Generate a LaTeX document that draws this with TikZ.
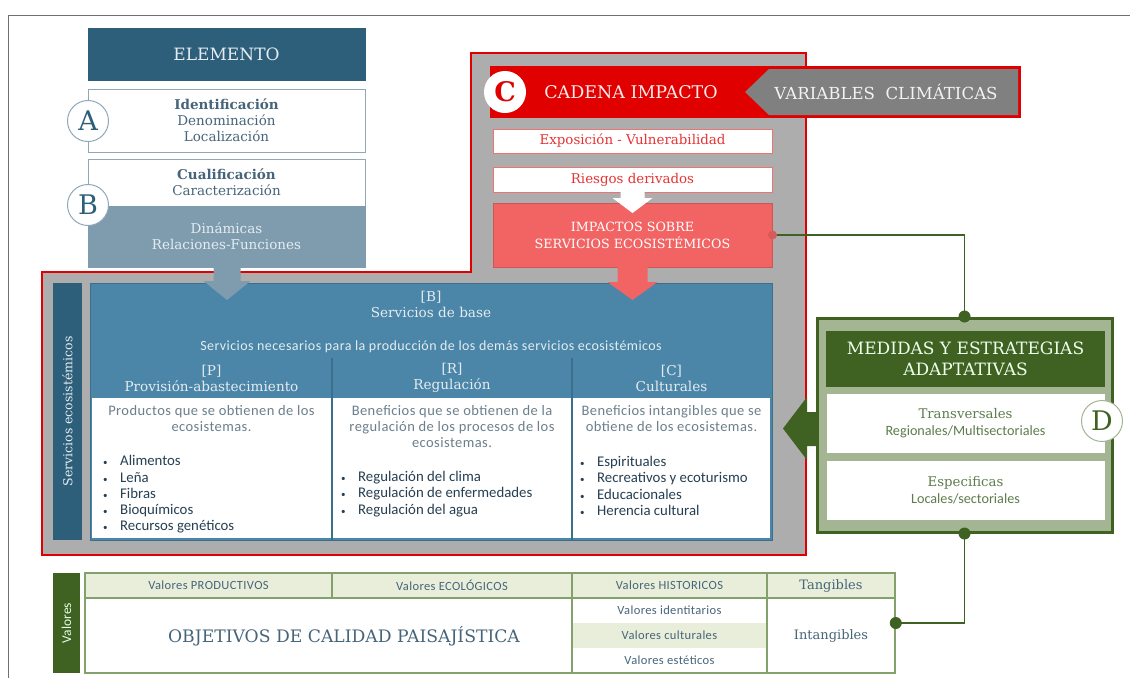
\documentclass[tikz,border=0pt]{standalone}
\usepackage{fontspec}
\setmainfont{DejaVu Serif}
\newfontfamily\sansf{Carlito}
\newfontfamily\sansw{Carlito}[LetterSpace=3]
\usetikzlibrary{calc}

\definecolor{tealdark}{HTML}{2D5F7B}
\definecolor{tealline}{HTML}{8EA8B9}
\definecolor{tealtext}{HTML}{46657A}
\definecolor{bluegray}{HTML}{7F9CAF}
\definecolor{steel}{HTML}{4B86A8}
\definecolor{steelline}{HTML}{3B6F8E}
\definecolor{regiongray}{HTML}{ADADAD}
\definecolor{impred}{HTML}{E00000}
\definecolor{salmon}{HTML}{F26464}
\definecolor{vargray}{HTML}{808080}
\definecolor{leafgreen}{HTML}{3F6121}
\definecolor{sage}{HTML}{A3B593}
\definecolor{palegreen}{HTML}{E8EEDA}
\definecolor{tablegreen}{HTML}{84A06C}
\definecolor{listtext}{HTML}{263F52}
\definecolor{desctext}{HTML}{6B7F8C}
\definecolor{greentext}{HTML}{5E7C4C}
\definecolor{paletext}{HTML}{E4ECF1}
\definecolor{framegray}{HTML}{707070}

\newcommand\fs[2]{\fontsize{#1}{#2}\selectfont}
\newcommand\itm[1]{\makebox[17pt][l]{\fs{9}{9}•}#1}

\tikzset{
  cell/.style={rectangle, inner sep=0pt, align=center},
  headbox/.style={cell, fill=tealdark, draw=tealdark, text=paletext, font=\fs{17}{20}},
  infobox/.style={cell, fill=white, draw=tealline, line width=1pt, text=tealtext, font=\fs{13.5}{16}},
  letter/.style={circle, inner sep=0pt, minimum size=41pt, fill=white, draw=tealline,
    line width=1pt, text=tealdark, font=\fs{27}{27}},
  chainbox/.style={cell, fill=white, draw=impred!55, line width=1pt, text=impred!80, font=\fs{13.4}{15}},
  colhead/.style={cell, text=paletext, font=\fs{13.6}{16}},
  coldesc/.style={cell, text=desctext, font=\sansw\fs{14.5}{16}},
  collist/.style={cell, align=left, anchor=west, text=listtext, font=\sansf\fs{14.8}{16.3}},
  panel/.style={cell, fill=white, minimum height=140},
  measbox/.style={cell, fill=white, draw=sage, line width=1pt, minimum width=279, minimum height=60,
    text=greentext, font=\fs{13.3}{17}},
  tabhead/.style={cell, fill=palegreen, draw=tablegreen, line width=1.5pt, minimum height=25,
    text=tealtext, font=\sansw\fs{12.5}{13}},
  tabrow/.style={cell, fill=white, minimum width=195, minimum height=25, text=tealtext, font=\sansw\fs{12.5}{13}},
  tie/.style={leafgreen, line width=1.5pt}
}

\begin{document}
\begin{tikzpicture}[x=1pt, y=-1pt]
  \useasboundingbox (0,0) rectangle (1130,678);

  % frame
  \draw[framegray, line width=1pt] (8,678) -- (8,15) -- (1130,15);

  % element column
  \node[headbox, minimum width=277, minimum height=52] (elemento) at (226.5,54) {ELEMENTO};
  \node[infobox, minimum width=277, minimum height=63] (ident) at (226.5,120.5)
    {{\bfseries Identificación}\\Denominación\\Localización};
  \node[infobox, minimum width=277, minimum height=47] (cualif) at (226.5,182.5)
    {{\bfseries Cualificación}\\Caracterización};
  \node[cell, fill=bluegray, draw=bluegray, minimum width=277, minimum height=61, text=paletext,
    font=\fs{13.5}{16}] (dinamicas) at (226.5,236.5) {Dinámicas\\Relaciones-Funciones};
  \node[letter] (circA) at (88,121) {A};
  \node[letter] (circB) at (88,205) {B};

  % impact region
  \draw[impred, line width=2.5pt, fill=regiongray]
    (42,272) -- (471,272) -- (471,53) -- (806,53) -- (806,555) -- (42,555) -- cycle;

  % impact chain
  \fill[impred] (490,66) rectangle (1021,118);
  \fill[vargray] (745,92) -- (769,69) -- (1018,69) -- (1018,115) -- (769,115) -- cycle;
  \node[font=\fs{17.5}{20}, text=white!92!red] (cadena) at (631,92) {CADENA IMPACTO};
  \node[font=\fs{16.6}{20}, text=white!90!gray] (variables) at (886,92) {VARIABLES\ \ CLIMÁTICAS};
  \node[letter, draw=white, text=impred, font=\bfseries\fs{27}{27}] (circC) at (505,92) {C};
  \node[chainbox, minimum width=279, minimum height=24] (expos) at (632.5,141) {Exposición - Vulnerabilidad};
  \node[chainbox, minimum width=279, minimum height=25] (riesgos) at (632.5,179.5) {Riesgos derivados};
  \node[cell, fill=salmon, draw=salmon!85!black, line width=1pt, minimum width=279, minimum height=64,
    text=white, font=\fs{12.7}{17}] (impactos) at (632.5,235) {IMPACTOS SOBRE\\SERVICIOS ECOSISTÉMICOS};
  \fill[white] (620.5,192) -- (644.5,192) -- (644.5,198) -- (652.5,198) -- (632.5,213)
    -- (612.5,198) -- (620.5,198) -- cycle;

  % ecosystem services
  \node[cell, fill=steel, draw=steelline, line width=1pt, minimum width=682, minimum height=257] (base) at (431,411.5) {};
  \node[cell, fill=tealdark, minimum width=257, minimum height=29, rotate=90, text=paletext,
    font=\fs{12.5}{14}] (ecolabel) at (67.5,411.5) {Servicios ecosistémicos};
  \node[panel, minimum width=239] (colP) at (211.5,468) {};
  \node[panel, minimum width=238] (colR) at (452,468) {};
  \node[panel, minimum width=197] (colC) at (671.5,468) {};
  \draw[steelline, line width=1.2pt] (332,358) -- (332,540);
  \draw[steelline, line width=1.2pt] (572,358) -- (572,540);

  \node[colhead] (bhead) at (431,304) {[B]\\Servicios de base};
  \node[cell, text=paletext, font=\sansw\fs{14}{15}] (bdesc) at (431,347)
    {Servicios necesarios para la producción de los demás servicios ecosistémicos};
  \node[colhead] (phead) at (211.5,378) {[P]\\Provisión-abastecimiento};
  \node[colhead] (rhead) at (452,378) {[R]\\Regulación};
  \node[colhead] (chead) at (671.5,378) {[C]\\Culturales};

  \node[coldesc] (pdesc) at (211.5,419) {Productos que se obtienen de los\\ecosistemas.};
  \node[coldesc] (rdesc) at (452,427) {Beneficios que se obtienen de la\\regulación de los procesos de los\\ecosistemas.};
  \node[coldesc] (cdesc) at (671.5,419) {Beneficios intangibles que se\\obtiene de los ecosistemas.};

  \node[collist] (plist) at (103,494.5)
    {\itm{Alimentos}\\\itm{Leña}\\\itm{Fibras}\\\itm{Bioquímicos}\\\itm{Recursos genéticos}};
  \node[collist] (rlist) at (341,494)
    {\itm{Regulación del clima}\\\itm{Regulación de enfermedades}\\\itm{Regulación del agua}};
  \node[collist] (clist) at (580,486)
    {\itm{Espirituales}\\\itm{Recreativos y ecoturismo}\\\itm{Educacionales}\\\itm{Herencia cultural}};

  % block arrows
  \fill[bluegray] (213.5,267) -- (240.5,267) -- (240.5,281) -- (250.5,281) -- (227,300)
    -- (203.5,281) -- (213.5,281) -- cycle;
  \fill[salmon] (617.5,267) -- (647.5,267) -- (647.5,282) -- (657.5,282) -- (632.5,300)
    -- (607.5,282) -- (617.5,282) -- cycle;
  \fill[leafgreen] (783,428.5) -- (807,397) -- (807,412) -- (823,412) -- (823,446)
    -- (807,446) -- (807,460) -- cycle;

  % adaptive measures
  \node[cell, fill=sage, draw=leafgreen, line width=3pt, minimum width=295, minimum height=214] (medidas) at (964.5,425) {};
  \node[cell, fill=leafgreen, minimum width=279, minimum height=56, text=white!92!green,
    font=\fs{17}{21}] (medhead) at (965.5,359) {MEDIDAS Y ESTRATEGIAS\\ADAPTATIVAS};
  \node[measbox] (transv) at (965.5,423) {Transversales\\{\sansf\fs{14.2}{17}Regionales/Multisectoriales}};
  \node[measbox] (espec) at (965.5,490) {Especificas\\{\sansf\fs{14.2}{17}Locales/sectoriales}};
  \node[letter, draw=sage, text=leafgreen] (circD) at (1102,421) {D};

  % values table
  \node[cell, fill=leafgreen, minimum width=100, minimum height=27, rotate=90, text=white!90!green,
    font=\sansf\fs{13.5}{14}] (valores) at (66.5,623) {Valores};
  \node[tabhead, minimum width=247] (vprod) at (208.5,585.5) {Valores PRODUCTIVOS};
  \node[tabhead, minimum width=240] (veco) at (452,585.5) {Valores ECOLÓGICOS};
  \node[tabhead, minimum width=195] (vhist) at (669.5,585.5) {Valores HISTORICOS};
  \node[tabhead, minimum width=128, font=\fs{13}{15}] (tang) at (831,585.5) {Tangibles};
  \node[cell, fill=white, draw=tablegreen, line width=1.5pt, minimum width=487, minimum height=75] (objetivos) at (328.5,635.5) {};
  \node[text=tealtext, font=\fs{17.2}{19}] (objtext) at (344,636) {OBJETIVOS\ DE CALIDAD PAISAJÍSTICA};
  \node[tabrow] (videnti) at (669.5,610.5) {Valores identitarios};
  \node[tabrow, fill=palegreen] (vcult) at (669.5,635.5) {Valores culturales};
  \node[tabrow] (vest) at (669.5,660.5) {Valores estéticos};
  \draw[tablegreen, line width=1.5pt] (videnti.north west) rectangle (vest.south east);
  \node[cell, fill=white, draw=tablegreen, line width=1.5pt, minimum width=128, minimum height=75,
    text=tealtext, font=\fs{13}{15}] (intang) at (831,635.5) {Intangibles};

  % ties
  \draw[tie] (impactos.east) -| (medidas.north);
  \fill[salmon!90!black] (impactos.east) circle (4.5);
  \fill[leafgreen] (medidas.north) circle (6);
  \draw[tie] (medidas.south) |- ([yshift=12.5pt]intang.east);
  \fill[leafgreen] (medidas.south) circle (6);
  \fill[leafgreen] ([yshift=12.5pt]intang.east) circle (6);

\end{tikzpicture}
\end{document}
